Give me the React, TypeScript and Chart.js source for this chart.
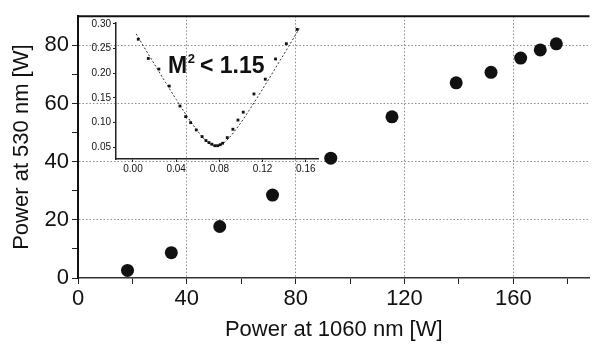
import React, { useEffect, useRef } from 'react';
import { Chart, registerables } from 'chart.js';

Chart.register(...registerables);

// ---------- data ----------
const mainX = [18.2, 34.3, 52.1, 71.5, 92.9, 115.4, 139.0, 151.8, 162.7, 169.9, 175.8];
const mainY = [2.6, 8.7, 17.7, 28.5, 41.2, 55.4, 67.1, 70.7, 75.6, 78.4, 80.5];

const insetX = [0.0049, 0.0142, 0.024, 0.0336, 0.0435, 0.0488, 0.0534, 0.0586, 0.064, 0.0676, 0.0704, 0.0731, 0.0759, 0.0784, 0.0808, 0.083, 0.0873, 0.0925, 0.0972, 0.1021, 0.112, 0.1225, 0.132, 0.142, 0.152];
const insetY = [0.269, 0.230, 0.2085, 0.174, 0.1335, 0.112, 0.0998, 0.085, 0.0715, 0.0634, 0.0593, 0.056, 0.053, 0.053, 0.055, 0.058, 0.0694, 0.0864, 0.105, 0.121, 0.158, 0.188, 0.229, 0.26, 0.289];

const fitX = [0.003, 0.01, 0.02, 0.03, 0.04, 0.047, 0.055, 0.065, 0.071, 0.077, 0.083, 0.089, 0.099, 0.107, 0.114, 0.124, 0.134, 0.144, 0.154];
const fitY = [0.280, 0.254, 0.218, 0.182, 0.147, 0.123, 0.097, 0.069, 0.057, 0.052, 0.057, 0.069, 0.097, 0.123, 0.147, 0.182, 0.218, 0.254, 0.291];

const mainXTickValues = [0, 20, 40, 60, 80, 100, 120, 140, 160, 180];
const mainXLabels = [0, 40, 80, 120, 160];
const mainYTickValues = [0, 10, 20, 30, 40, 50, 60, 70, 80];
const mainYLabels = [0, 20, 40, 60, 80];
const insetXTicks = [0, 0.04, 0.08, 0.12, 0.16];
const insetYTicks = [0.05, 0.10, 0.15, 0.20, 0.25, 0.30];

const xTitle = 'Power at 1060 nm [W]';
const yTitle = 'Power at 530 nm [W]';
const annoMain = 'M';
const annoSup = '2';
const annoRest = '< 1.15';

const FONT = '"Liberation Sans", Arial, Helvetica, sans-serif';

export default function App() {
  const mainRef = useRef<HTMLCanvasElement>(null);
  const insetRef = useRef<HTMLCanvasElement>(null);

  useEffect(() => {
    const topBorder = {
      id: 'topBorder',
      afterDraw(chart: any) {
        const { ctx, chartArea } = chart;
        ctx.save();
        ctx.strokeStyle = '#111';
        ctx.lineWidth = 2;
        ctx.beginPath();
        ctx.moveTo(chartArea.left, chartArea.top);
        ctx.lineTo(chartArea.right, chartArea.top);
        ctx.stroke();
        ctx.restore();
      },
    };

    const main = new Chart(mainRef.current!, {
      type: 'scatter',
      data: {
        datasets: [
          {
            data: mainX.map((x, i) => ({ x, y: mainY[i] })),
            pointRadius: 6.5,
            pointHoverRadius: 6.5,
            backgroundColor: '#111',
            borderWidth: 0,
          },
        ],
      },
      options: {
        animation: false,
        responsive: false,
        devicePixelRatio: 1,
        layout: { padding: { top: 13, right: 0, left: 0, bottom: 0 } },
        plugins: { legend: { display: false }, tooltip: { enabled: false } },
        scales: {
          x: {
            type: 'linear',
            min: 0,
            max: 188,
            afterBuildTicks: (s: any) => {
              s.ticks = mainXTickValues.map((v) => ({ value: v }));
            },
            afterFit: (s: any) => {
              s.height = 69;
            },
            ticks: {
              autoSkip: false,
              maxRotation: 0,
              padding: 2,
              color: '#111',
              font: { family: FONT, size: 22 },
              callback: (v: any) => (mainXLabels.includes(v) ? String(v) : ''),
            },
            grid: {
              color: (c: any) =>
                c.tick && mainXLabels.includes(c.tick.value) && c.tick.value !== 0 ? '#8c8c8c' : 'rgba(0,0,0,0)',
              tickColor: '#222',
              tickLength: 6,
              lineWidth: 1,
            },
            border: { color: '#333', width: 1.5, dash: [1.5, 2] },
            title: {
              display: true,
              text: xTitle,
              color: '#111',
              font: { family: FONT, size: 22 },
              padding: { top: 0, bottom: 4 },
            },
          },
          y: {
            type: 'linear',
            min: 0,
            max: 90,
            afterBuildTicks: (s: any) => {
              s.ticks = mainYTickValues.map((v) => ({ value: v }));
            },
            afterFit: (s: any) => {
              s.width = 78;
            },
            ticks: {
              autoSkip: false,
              padding: 3,
              color: '#111',
              font: { family: FONT, size: 22 },
              callback: (v: any) => (mainYLabels.includes(v) ? String(v) : ''),
            },
            grid: {
              color: (c: any) =>
                c.tick && mainYLabels.includes(c.tick.value) && c.tick.value !== 0 ? '#8c8c8c' : 'rgba(0,0,0,0)',
              tickColor: '#222',
              tickLength: 6,
              lineWidth: 1,
            },
            border: { color: '#111', width: 2, dash: [1.5, 2] },
            title: {
              display: true,
              text: yTitle,
              color: '#111',
              font: { family: FONT, size: 22 },
              padding: { top: 9, bottom: 0 },
            },
          },
        },
      },
      plugins: [topBorder],
    } as any);

    const annotationPlugin = {
      id: 'm2',
      afterDraw(chart: any) {
        const { ctx } = chart;
        ctx.save();
        ctx.fillStyle = '#111';
        ctx.textBaseline = 'alphabetic';
        ctx.font = `bold 23px ${FONT}`;
        const x0 = 88;
        const yb = 63;
        ctx.fillText(annoMain, x0, yb);
        const wM = ctx.measureText(annoMain).width;
        ctx.font = `bold 13px ${FONT}`;
        ctx.fillText(annoSup, x0 + wM + 0.5, yb - 10);
        ctx.font = `bold 23px ${FONT}`;
        ctx.fillText(annoRest, 120, yb);
        ctx.restore();
      },
    };

    const inset = new Chart(insetRef.current!, {
      type: 'scatter',
      data: {
        datasets: [
          {
            data: insetX.map((x, i) => ({ x, y: insetY[i] })),
            pointStyle: 'rect',
            pointRadius: 2,
            pointHoverRadius: 2,
            backgroundColor: '#111',
            borderWidth: 0,
          },
          {
            data: fitX.map((x, i) => ({ x, y: fitY[i] })),
            showLine: true,
            pointRadius: 0,
            borderColor: '#333',
            borderWidth: 1,
            borderDash: [2, 2],
            cubicInterpolationMode: 'monotone',
          },
        ],
      },
      options: {
        animation: false,
        responsive: false,
        devicePixelRatio: 1,
        layout: { padding: { top: 13, right: 12, left: 0, bottom: 0 } },
        plugins: { legend: { display: false }, tooltip: { enabled: false } },
        scales: {
          x: {
            type: 'linear',
            min: -0.0157,
            max: 0.1713,
            afterBuildTicks: (s: any) => {
              s.ticks = insetXTicks.map((v) => ({ value: v }));
            },
            afterFit: (s: any) => {
              s.height = 26;
            },
            ticks: {
              autoSkip: false,
              maxRotation: 0,
              padding: 1,
              color: '#111',
              font: { family: FONT, size: 10 },
              callback: (v: any) => Number(v).toFixed(2),
            },
            grid: { drawOnChartArea: false, tickLength: 3, tickColor: '#222' },
            border: { color: '#222', width: 1.5 },
          },
          y: {
            type: 'linear',
            min: 0.026,
            max: 0.302,
            afterBuildTicks: (s: any) => {
              s.ticks = insetYTicks.map((v) => ({ value: v }));
            },
            afterFit: (s: any) => {
              s.width = 36;
            },
            ticks: {
              autoSkip: false,
              padding: 2,
              color: '#111',
              font: { family: FONT, size: 10 },
              callback: (v: any) => Number(v).toFixed(2),
            },
            grid: { drawOnChartArea: false, tickLength: 3, tickColor: '#222' },
            border: { color: '#222', width: 1.5 },
          },
        },
      },
      plugins: [annotationPlugin],
    } as any);

    return () => {
      main.destroy();
      inset.destroy();
    };
  }, []);

  return (
    <div style={{ position: 'fixed', left: 0, top: 0, width: 596, height: 347, background: '#fff' }}>
      <canvas ref={mainRef} width={596} height={347} style={{ position: 'absolute', left: 0, top: 0 }} />
      <canvas ref={insetRef} width={250} height={175} style={{ position: 'absolute', left: 80, top: 10 }} />
    </div>
  );
}
